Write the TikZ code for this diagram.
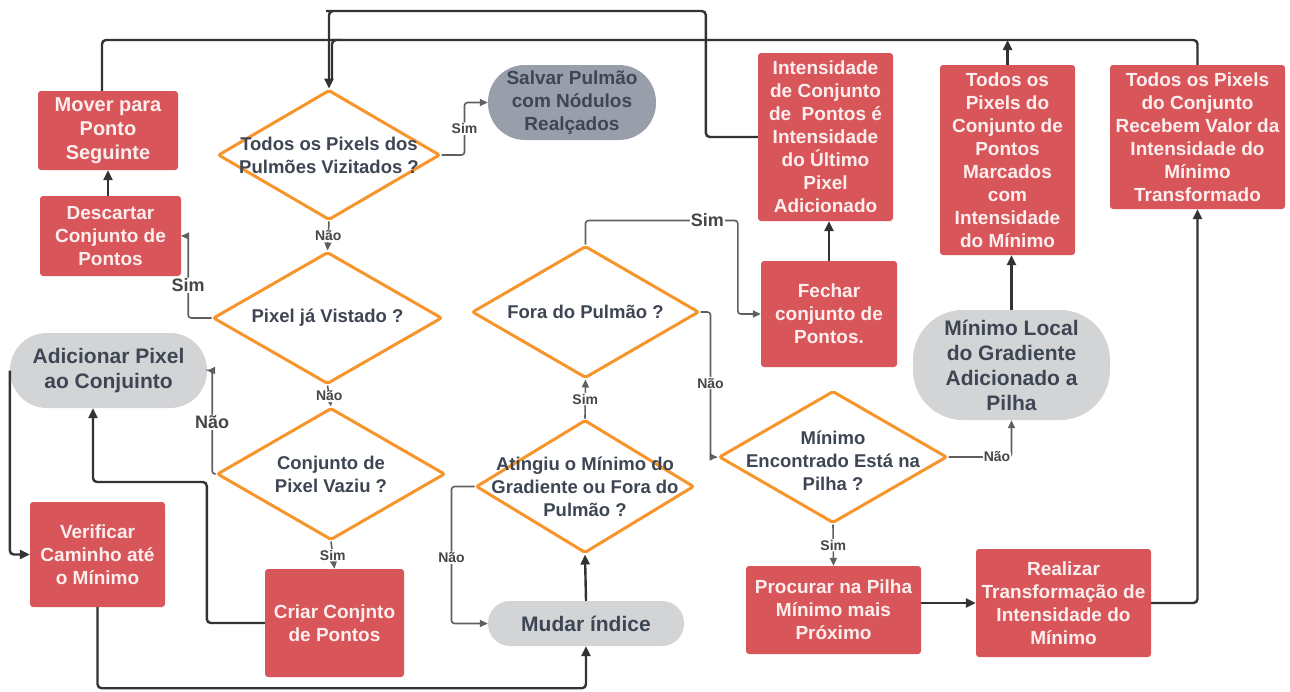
\documentclass[tikz,border=0pt]{standalone}
\usepackage{fontspec}
\setmainfont{Liberation Sans}
\usetikzlibrary{shapes.geometric,arrows.meta}

\definecolor{boxred}{RGB}{216,86,89}
\definecolor{redtxt}{RGB}{252,238,238}
\definecolor{dorange}{RGB}{247,148,42}
\definecolor{pilllight}{RGB}{211,212,214}
\definecolor{pilldark}{RGB}{152,159,170}
\definecolor{slate}{RGB}{62,70,84}
\definecolor{linedark}{RGB}{51,51,51}
\definecolor{linethin}{RGB}{95,95,95}
\definecolor{lbltxt}{RGB}{70,70,70}

\begin{document}
\begin{tikzpicture}[x=1pt,y=-1pt,
  redbox/.style={fill=boxred, draw=none, rounded corners=3pt, text=redtxt,
    align=center, inner sep=0pt, font=\fontsize{19}{23}\selectfont\bfseries},
  pill/.style={fill=pilllight, draw=none, text=slate, align=center, inner sep=0pt,
    font=\fontsize{21}{25}\selectfont\bfseries},
  dia/.style={shape=diamond, draw=dorange, line width=3pt, fill=white,
    inner sep=0pt, rounded corners=2pt},
  dtxt/.style={text=slate, align=center, inner sep=0pt,
    font=\fontsize{18.5}{23}\selectfont\bfseries},
  conn/.style={draw=linedark, line width=2.4pt, rounded corners=4pt,
    -{Triangle[length=10pt,width=9pt]}},
  connplain/.style={draw=linedark, line width=2.4pt, rounded corners=4pt},
  thin/.style={draw=linethin, line width=1.6pt, rounded corners=3pt,
    -{Triangle[length=8pt,width=7pt]}},
  lbl/.style={fill=white, text=lbltxt, inner sep=1pt,
    font=\fontsize{14}{16}\selectfont\bfseries},
  biglbl/.style={fill=white, text=lbltxt, inner sep=1pt,
    font=\fontsize{18}{20}\selectfont\bfseries}
]
\useasboundingbox (0,0) rectangle (1290,691);

% ---------- process boxes ----------
\node[redbox, minimum width=140, minimum height=79, font=\fontsize{20}{24}\selectfont\bfseries]
  (mover) at (108,130.5) {Mover para\\Ponto\\Seguinte};
\node[redbox, minimum width=141, minimum height=80]
  (descartar) at (110.5,236) {Descartar\\Conjunto de\\Pontos};
\node[redbox, minimum width=135, minimum height=168]
  (intens) at (825.5,137) {Intensidade\\de Conjunto\\de\ \ Pontos é\\Intensidade\\do Último\\Pixel\\Adicionado};
\node[redbox, minimum width=135, minimum height=190]
  (marcados) at (1007.5,160) {Todos os\\Pixels do\\Conjunto de\\Pontos\\Marcados\\com\\Intensidade\\do Mínimo};
\node[redbox, minimum width=175, minimum height=144]
  (recebem) at (1197.5,137) {Todos os Pixels\\do Conjunto\\Recebem Valor da\\Intensidade do\\Mínimo\\Transformado};
\node[redbox, minimum width=136, minimum height=106]
  (fechar) at (829,314) {Fechar\\conjunto de\\Pontos.};
\node[redbox, minimum width=135, minimum height=105]
  (verif) at (97.5,554.5) {Verificar\\Caminho até\\o Mínimo};
\node[redbox, minimum width=139, minimum height=108]
  (criar) at (334.5,623) {Criar Conjnto\\de Pontos};
\node[redbox, minimum width=175, minimum height=88]
  (procurar) at (833.5,610) {Procurar na Pilha\\Mínimo mais\\Próximo};
\node[redbox, minimum width=175, minimum height=108]
  (realizar) at (1063.5,603) {Realizar\\Transformação de\\Intensidade do\\Mínimo};

% ---------- terminal / state pills ----------
\node[pill, fill=pilldark, rounded corners=37pt, minimum width=168, minimum height=75,
  font=\fontsize{19}{23}\selectfont\bfseries]
  (salvar) at (572,102.5) {Salvar Pulmão\\com Nódulos\\Realçados};
\node[pill, rounded corners=37pt, minimum width=197, minimum height=75]
  (adic) at (108.5,370.5) {Adicionar Pixel\\ao Conjuinto};
\node[pill, rounded corners=50pt, minimum width=197, minimum height=110]
  (minloc) at (1011.5,365) {Mínimo Local\\do Gradiente\\Adicionado a\\Pilha};
\node[pill, rounded corners=22pt, minimum width=196, minimum height=45]
  (mudar) at (586,623.5) {Mudar índice};

% ---------- decisions ----------
\node[dia, minimum width=222, minimum height=130,
  label={[dtxt]center:{Todos os Pixels dos\\Pulmões Vizitados ?}}] (d1) at (329,155) {};
\node[dia, minimum width=229, minimum height=132,
  label={[dtxt]center:{Pixel já Vistado ?}}] (d2) at (327.5,318) {};
\node[dia, minimum width=228, minimum height=132,
  label={[dtxt]center:{Conjunto de\\Pixel Vaziu ?}}] (d3) at (331,474) {};
\node[dia, minimum width=227, minimum height=132,
  label={[dtxt]center:{Fora do Pulmão ?}}] (d4) at (585.5,312) {};
\node[dia, minimum width=218, minimum height=133,
  label={[dtxt]center:{Atingiu o Mínimo do\\Gradiente ou Fora do\\Pulmão ?}}] (d5) at (585,486.5) {};
\node[dia, minimum width=228, minimum height=132,
  label={[dtxt,yshift=-4pt]center:{Mínimo\\Encontrado Está na\\Pilha ?}}] (d6) at (833,457) {};

% ---------- bus lines along the top ----------
\coordinate (busA) at (330,11);
\coordinate (busB) at (333,40);

% ---------- connectors ----------
\draw[conn] (mover.south |- descartar.north) -- (mover.south);
% the lower bus joins the upper one just above the shared arrowhead
\draw[connplain] ([xshift=-6pt]mover.north) |- (busB) -| ([xshift=3pt,yshift=9pt]d1.north);
\draw[connplain] (recebem.north) |- (busB);
\draw[conn] (marcados.north) -- (marcados.north |- busB);
\draw[conn] (intens.west) -- ++(-52,0) |- (busA) -| (d1.north);

\draw[thin] (d1.east) -- ++(23,0) |- node[pos=0.25,lbl]{Sim} (salvar.west);
\draw[thin] (d1.south) -- node[lbl]{Não} (d2.north);
\draw[thin] (d2.west) -| node[pos=0.7,biglbl]{Sim} ([xshift=7pt]descartar.east) -- (descartar.east);
\draw[thin] (d2.south) -- node[lbl]{Não} (d3.north);
\draw[thin] (d3.west) -| node[pos=0.75,biglbl]{Não} ([xshift=5pt]adic.east) -- (adic.east);
\draw[thin] (d3.south) -- node[lbl]{Sim} (criar.north);

\draw[conn] (criar.west) -| ++(-58,-141) -| ([xshift=-15.5pt]adic.south);
\draw[conn] (adic.west) |- (verif.west);
\draw[conn] (verif.south) -- ++(0,81) -| (mudar.south);
\draw[conn] (mudar.north) -- (d5.south);

\draw[thin] (d5.west) -- ++(-23,0) |- node[pos=0.26,lbl]{Não} (mudar.west);
\draw[thin] (d5.north) -- node[lbl]{Sim} (d4.south);
\draw[thin] (d4.north) -- ++(0,-24) -| node[pos=0.4,biglbl]{Sim}
  ([xshift=-23pt]fechar.west) -- (fechar.west);
\draw[thin] (d4.east) -- ++(10,0) |- node[pos=0.245,lbl]{Não} (d6.west);

\draw[conn] (fechar.north) -- (fechar.north |- intens.south);
\draw[thin] (d6.east) -| node[pos=0.385,lbl]{Não} (minloc.south);
\draw[conn] (minloc.north) -- (minloc.north |- marcados.south);
\draw[thin] (d6.south) -- node[lbl]{Sim} (procurar.north);
\draw[conn] (procurar.east |- realizar.west) -- (realizar.west);
\draw[conn] (realizar.east) -| (recebem.south);
\end{tikzpicture}
\end{document}
